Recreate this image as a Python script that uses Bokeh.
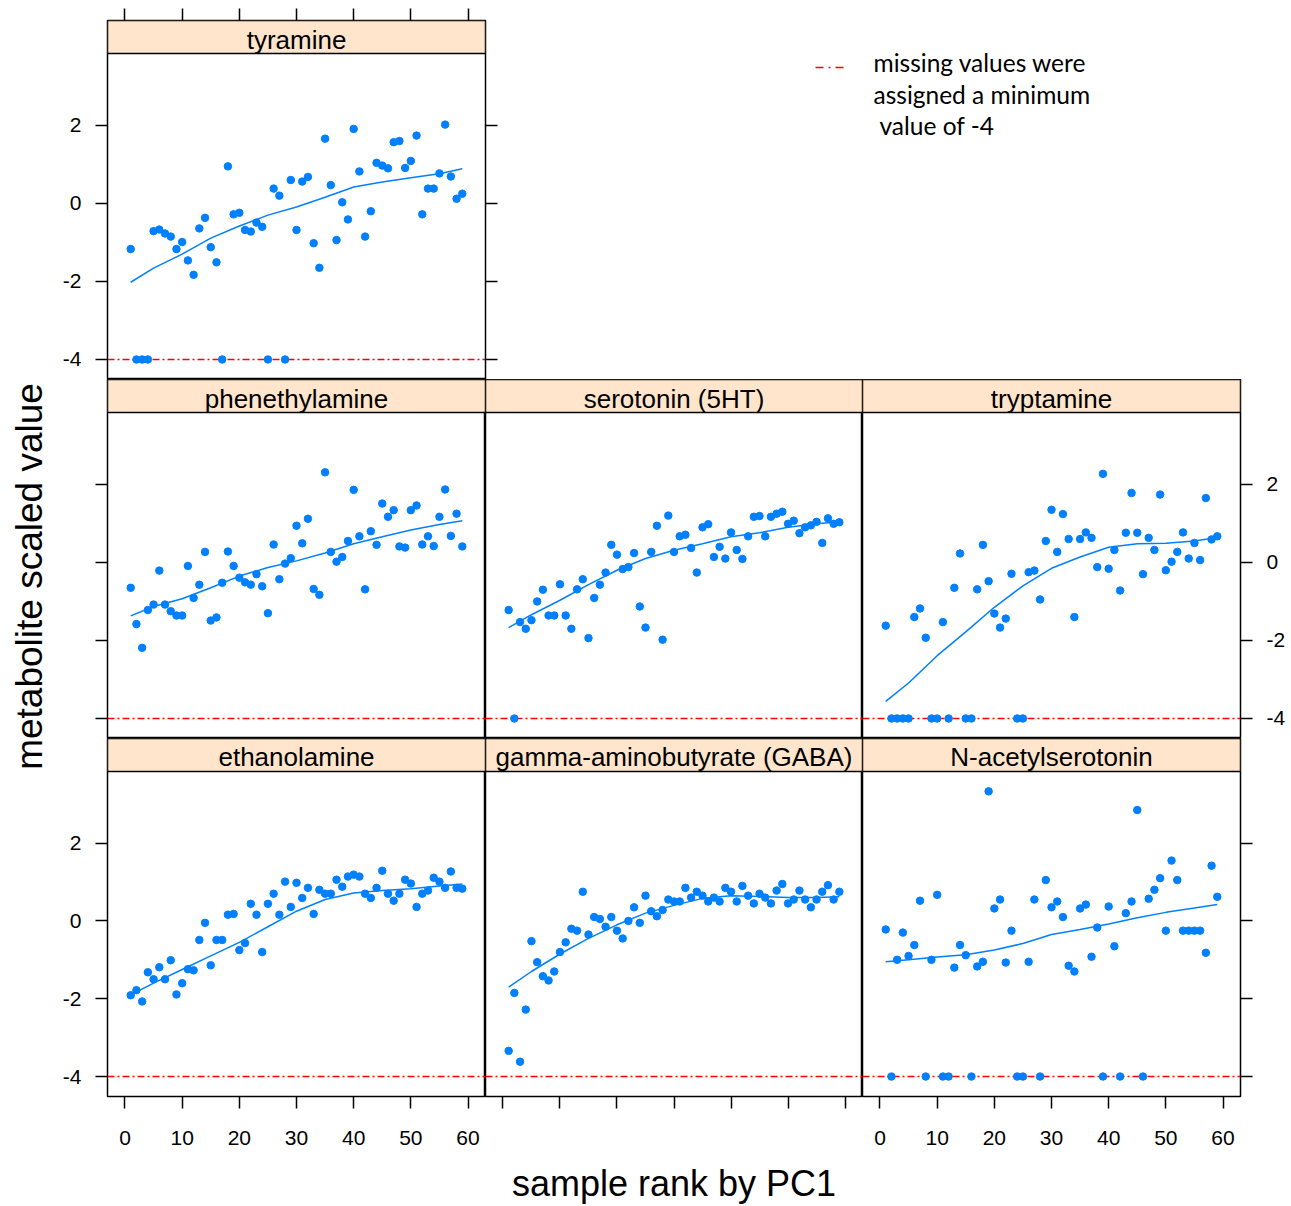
import numpy as np
from bokeh.plotting import figure
from bokeh.layouts import row, column
from bokeh.models import Range1d, LinearAxis, FixedTicker
from bokeh.core.properties import value
from bokeh.embed import file_html
from bokeh.resources import INLINE

# ---------------- data ----------------
RANK = list(range(1, 60))
MISSING = -4.0

tyramine = [-1.17, -4, -4, -4, -0.71, -0.67, -0.77, -0.85, -1.17, -0.99,
            -1.46, -1.83, -0.64, -0.37, -1.12, -1.51, -4, 0.95, -0.28, -0.24,
            -0.68, -0.72, -0.49, -0.60, -4, 0.38, 0.20, -4, 0.60, -0.68,
            0.56, 0.68, -1.02, -1.65, 1.66, 0.47, -0.94, 0.03, -0.41, 1.91,
            0.82, -0.85, -0.20, 1.04, 0.97, 0.90, 1.57, 1.60, 0.91, 1.09,
            1.74, -0.28, 0.38, 0.38, 0.77, 2.02, 0.69, 0.12, 0.25]
phenethylamine = [-0.65, -1.58, -2.19, -1.22, -1.08, -0.21, -1.08, -1.25, -1.36, -1.36,
                  -0.09, -0.91, -0.57, 0.27, -1.49, -1.41, -0.52, 0.28, -0.09, -0.39,
                  -0.51, -0.57, -0.30, -0.61, -1.30, 0.46, -0.43, -0.03, 0.11, 0.94,
                  0.49, 1.12, -0.68, -0.83, 2.31, 0.27, 0.02, 0.14, 0.55, 1.86,
                  0.67, -0.69, 0.80, 0.45, 1.51, 1.17, 1.34, 0.41, 0.38, 1.34,
                  1.46, 0.46, 0.67, 0.42, 1.17, 1.87, 0.68, 1.25, 0.41]
serotonin = [-1.22, -4, -1.53, -1.70, -1.48, -1.00, -0.70, -1.36, -1.36, -0.56,
             -1.36, -1.70, -0.69, -0.43, -1.94, -0.91, -0.57, -0.26, 0.45, 0.20,
             -0.17, -0.12, 0.24, -1.13, -1.67, 0.27, 0.94, -1.98, 1.20, 0.27,
             0.67, 0.71, 0.37, -0.26, 0.90, 0.98, 0.14, 0.40, 0.10, 0.77,
             0.32, 0.09, 0.67, 1.17, 1.19, 0.67, 1.17, 1.25, 1.30, 0.99,
             1.07, 0.75, 0.90, 0.95, 1.04, 0.50, 1.13, 0.99, 1.03]
tryptamine = [-1.62, -4, -4, -4, -4, -1.40, -1.18, -1.93, -4, -4,
              -1.53, -4, -0.65, 0.23, -4, -4, -0.69, 0.45, -0.48, -1.31,
              -1.67, -1.44, -0.29, -4, -4, -0.25, -0.21, -0.95, 0.55, 1.35,
              0.27, 1.24, 0.60, -1.40, 0.60, 0.77, 0.63, -0.12, 2.27, -0.16,
              0.32, -0.72, 0.76, 1.78, 0.76, -0.30, 0.63, 0.32, 1.74, -0.20,
              0.02, 0.27, 0.77, 0.10, 0.50, 0.06, 1.65, 0.59, 0.67]
ethanolamine = [-1.91, -1.78, -2.07, -1.32, -1.50, -1.19, -1.50, -1.01, -1.89, -1.60,
                -1.24, -1.27, -0.49, -0.05, -1.14, -0.49, -0.49, 0.16, 0.18, -0.75,
                -0.57, 0.44, 0.16, -0.80, 0.44, 0.70, 0.16, 1.01, 0.36, 0.98,
                0.59, 0.85, 0.18, 0.80, 0.70, 0.70, 1.06, 0.88, 1.14, 1.19,
                1.14, 0.70, 0.59, 0.85, 1.29, 0.70, 0.52, 0.70, 1.06, 0.96,
                0.36, 0.70, 0.78, 1.11, 1.01, 0.85, 1.27, 0.85, 0.83]
gaba = [-3.34, -1.85, -3.62, -2.28, -0.52, -1.06, -1.42, -1.53, -1.30, -0.80,
        -0.55, -0.20, -0.25, 0.75, -0.35, 0.10, 0.05, -0.15, 0.10, -0.25,
        -0.45, 0.00, 0.35, -0.05, 0.65, 0.25, 0.12, 0.28, 0.55, 0.50,
        0.50, 0.85, 0.60, 0.75, 0.65, 0.50, 0.60, 0.50, 0.85, 0.75,
        0.50, 0.90, 0.65, 0.45, 0.70, 0.60, 0.45, 0.78, 0.95, 0.45,
        0.55, 0.78, 0.55, 0.35, 0.55, 0.75, 0.92, 0.55, 0.75]
n_acetylserotonin = [-0.22, -4, -1.00, -0.30, -0.90, -0.62, 0.52, -4, -1.00, 0.67,
                     -4, -4, -1.20, -0.62, -0.88, -4, -1.17, -1.05, 3.33, 0.32,
                     0.55, -1.07, -0.25, -4, -4, -1.05, 0.55, -4, 1.05, 0.35,
                     0.50, 0.10, -1.15, -1.30, 0.32, 0.42, -0.92, -0.17, -4, 0.37,
                     -0.65, -4, 0.20, 0.50, 2.85, -4, 0.57, 0.80, 1.10, -0.25,
                     1.55, 1.05, -0.25, -0.25, -0.25, -0.25, -0.82, 1.42, 0.62]

# smooth (loess) curves
SMOOTH_X = [1, 5, 10, 15, 20, 25, 30, 35, 40, 45, 50, 55, 59]
tyramine_smooth = [-2.02, -1.66, -1.30, -0.89, -0.58, -0.30, -0.09, 0.16, 0.42, 0.55, 0.66, 0.76, 0.89]
phenethylamine_smooth = [-1.37, -1.13, -0.93, -0.65, -0.35, -0.13, 0.04, 0.24, 0.48, 0.66, 0.83, 0.97, 1.07]
serotonin_smooth = [-1.67, -1.34, -0.97, -0.57, -0.20, 0.10, 0.31, 0.48, 0.66, 0.76, 0.90, 0.99, 1.04]
tryptamine_smooth = [-3.56, -3.09, -2.39, -1.78, -1.15, -0.60, -0.15, 0.14, 0.39, 0.48, 0.49, 0.55, 0.64]
ethanolamine_smooth = [-1.90, -1.60, -1.25, -0.90, -0.55, -0.15, 0.25, 0.55, 0.72, 0.78, 0.83, 0.90, 0.95]
gaba_smooth = [-1.70, -1.30, -0.85, -0.45, -0.10, 0.20, 0.40, 0.58, 0.65, 0.63, 0.60, 0.60, 0.62]
n_acetylserotonin_smooth = [-1.05, -1.00, -0.93, -0.87, -0.75, -0.58, -0.35, -0.22, -0.08, 0.08, 0.22, 0.33, 0.42]

X_TICKS = [0, 10, 20, 30, 40, 50, 60]
Y_TICKS = [-4, -2, 0, 2]
XLABEL = "sample rank by PC1"
YLABEL = "metabolite scaled value"
NOTE = ["missing values were", "assigned a minimum", "value of -4"]

# ---------------- style / layout ----------------
BLUE = "#0080FF"
STRIP = "#FFE5CC"
FONT = "Liberation Sans"
PAD = 0.07
FRAME_H = 359
STRIP_H = 33

all_vals = tyramine + phenethylamine + serotonin + tryptamine + ethanolamine + gaba + n_acetylserotonin
x_lo, x_hi = min(RANK), max(RANK)
xr = (x_lo - PAD * (x_hi - x_lo), x_hi + PAD * (x_hi - x_lo))
y_lo, y_hi = min(all_vals), max(all_vals)
y0 = y_lo - PAD * (y_hi - y_lo)
y1 = y_hi + PAD * (y_hi - y_lo)
per_px = (y1 - y0) / (FRAME_H - STRIP_H)
y_end = y1 + STRIP_H * per_px


def add_axis(p, side, labeled, axis_label=None):
    ticks = X_TICKS if side in ("above", "below") else Y_TICKS
    ax = LinearAxis(ticker=FixedTicker(ticks=ticks))
    ax.major_label_overrides = {t: str(t) for t in ticks}
    ax.axis_line_color = None
    ax.major_tick_line_color = "black"
    ax.major_tick_line_width = 1.5
    ax.major_tick_out = 12
    ax.major_tick_in = 0
    ax.minor_tick_line_color = None
    if labeled:
        ax.major_label_text_font = FONT
        ax.major_label_text_font_size = "21px"
        ax.major_label_text_color = "black"
        ax.major_label_standoff = 22 if side == "below" else 14
    else:
        ax.major_label_text_font_size = "0px"
        ax.major_label_text_color = None
        ax.major_label_standoff = 0
    if axis_label:
        ax.axis_label = axis_label
        ax.axis_label_text_font = FONT
        ax.axis_label_text_font_size = "36px"
        ax.axis_label_text_font_style = "normal"
        ax.axis_label_text_color = "black"
        ax.axis_label_standoff = 54
    p.add_layout(ax, side)


def panel(name, vals, smooth, width, left=0, right=0, top=0, bottom=0, axes=()):
    p = figure(width=width, height=FRAME_H + top + bottom,
               x_range=Range1d(*xr), y_range=Range1d(y0, y_end),
               output_backend="svg", toolbar_location=None,
               x_axis_location=None, y_axis_location=None,
               min_border_left=left, min_border_right=right,
               min_border_top=top, min_border_bottom=bottom)
    p.xgrid.visible = False
    p.ygrid.visible = False
    p.background_fill_color = "white"
    p.border_fill_color = "white"
    p.outline_line_color = "black"
    p.outline_line_width = 1.5
    # strip
    p.quad(left=[xr[0]], right=[xr[1]], bottom=[y1], top=[y_end],
           fill_color=STRIP, line_color="black", line_width=1.5)
    p.text(x=[(xr[0] + xr[1]) / 2], y=[y1 + 14 * per_px], text=[name],
           text_align="center", text_baseline="middle",
           text_font=value(FONT), text_font_size="26px", text_color="black")
    # missing-value reference line
    p.line([xr[0], xr[1]], [MISSING, MISSING], line_color="#FF0000",
           line_width=1.5, line_dash="7 3 2 3")
    p.scatter(RANK, vals, size=7.5, color=BLUE)
    p.line(SMOOTH_X, smooth, line_color=BLUE, line_width=1.5)
    for ax in axes:
        add_axis(p, *ax)
    return p


p_tyr = panel("tyramine", tyramine, tyramine_smooth, 475, left=57, right=40, top=20,
              axes=[("left", True), ("right", False), ("above", False)])
p_phe = panel("phenethylamine", phenethylamine, phenethylamine_smooth, 435, left=57,
              axes=[("left", False)])
p_ser = panel("serotonin (5HT)", serotonin, serotonin_smooth, 377)
p_try = panel("tryptamine", tryptamine, tryptamine_smooth, 429, right=51,
              axes=[("right", True)])
p_eth = panel("ethanolamine", ethanolamine, ethanolamine_smooth, 435, left=57, bottom=109,
              axes=[("left", True), ("below", True)])
p_gab = panel("gamma-aminobutyrate (GABA)", gaba, gaba_smooth, 377, bottom=109,
              axes=[("below", False, XLABEL)])
p_nac = panel("N-acetylserotonin", n_acetylserotonin, n_acetylserotonin_smooth, 429,
              right=51, bottom=109, axes=[("below", True), ("right", False)])


def blank(x_lo_px, x_hi_px, y_top_px, y_bot_px, width, height, top=0):
    b = figure(width=width, height=height,
               x_range=Range1d(x_lo_px, x_hi_px), y_range=Range1d(y_bot_px, y_top_px),
               output_backend="svg", toolbar_location=None,
               x_axis_location=None, y_axis_location=None,
               min_border_left=0, min_border_right=0, min_border_top=top, min_border_bottom=0)
    b.xgrid.visible = False
    b.ygrid.visible = False
    b.outline_line_color = None
    b.background_fill_color = "white"
    b.border_fill_color = "white"
    return b


# y label column
p_ylab = blank(0, 50, 0, 1206, 50, 1206)
p_ylab.text(x=[29], y=[576], text=[YLABEL], angle=np.pi / 2,
            text_align="center", text_baseline="middle",
            text_font=value(FONT), text_font_size="37px", text_color="black")

# legend / note area (its frame is aligned with the tyramine frame: page y 20..379)
p_note = blank(525, 1291, 20, 379, 766, 379, top=20)
p_note.line([815, 843], [67, 67], line_color="#FF0000", line_width=1.6, line_dash="8 5 2 5")
p_note.text(x=[873, 873, 879], y=[62, 94, 125], text=NOTE,
            text_align="left", text_baseline="middle",
            text_font=value("Lato"), text_font_size="24.5px", text_color="black")

layout = row(p_ylab,
             column(row(p_tyr, p_note),
                    row(p_phe, p_ser, p_try),
                    row(p_eth, p_gab, p_nac)))

open("out.html", "w").write(file_html(layout, INLINE))
